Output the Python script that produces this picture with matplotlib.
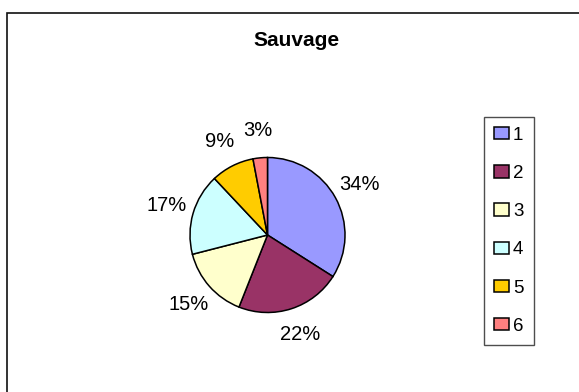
import matplotlib
matplotlib.use("Agg")
import matplotlib.pyplot as plt
from matplotlib.patches import Rectangle, Patch

plt.rcParams['font.family'] = ['Liberation Sans', 'DejaVu Sans']

# Data
categories = ['1', '2', '3', '4', '5', '6']
values = [34, 22, 15, 17, 9, 3]
colors = ['#9999FF', '#993366', '#FFFFCC', '#CCFFFF', '#FFCC00', '#FF8080']
title = 'Sauvage'

W, H = 579, 392
fig = plt.figure(figsize=(W / 100, H / 100), dpi=100)
fig.patch.set_facecolor('white')

# Chart-area frame (runs off the right and bottom edges)
fig.patches.append(Rectangle((7.5 / W, -0.1), 1.2, 1.1 - 13.5 / H,
                             transform=fig.transFigure, fill=False,
                             edgecolor='#111111', linewidth=1.2, zorder=0))

# Pie axes: radius 1 = 77.5 px, centred at (267.5, 235) px
r_px = 77.5
cx, cy = 267.5, 235
half = 2 * r_px
ax = fig.add_axes([(cx - half) / W, (H - cy - half) / H, 2 * half / W, 2 * half / H])
ax.axis('off')

wedges, _, autotexts = ax.pie(
    values, colors=colors, startangle=90, counterclock=False,
    autopct=lambda p: f'{p:.0f}%', pctdistance=1.35,
    wedgeprops=dict(edgecolor='black', linewidth=1.1),
    textprops=dict(fontsize=14.5, color='black'))
ax.set_xlim(-2, 2)
ax.set_ylim(-2, 2)
ax.set_aspect('auto')

fig.text(296.5 / W, 1 - 41 / H, title, ha='center', va='center',
         fontsize=15, fontweight='bold')

handles = [Patch(facecolor=c, edgecolor='black', linewidth=1.1) for c in colors]
leg = fig.legend(handles, categories, loc='upper left',
                 bbox_to_anchor=(484 / W, 1 - 116.5 / H),
                 fontsize=13.5, frameon=True, fancybox=False,
                 handlelength=0.8, handleheight=0.65, handletextpad=0.2,
                 labelspacing=1.13, borderpad=0.55, borderaxespad=0)
leg.get_frame().set_edgecolor('#222222')
leg.get_frame().set_linewidth(1.0)

fig.savefig('out.png', dpi=100, facecolor='white')
